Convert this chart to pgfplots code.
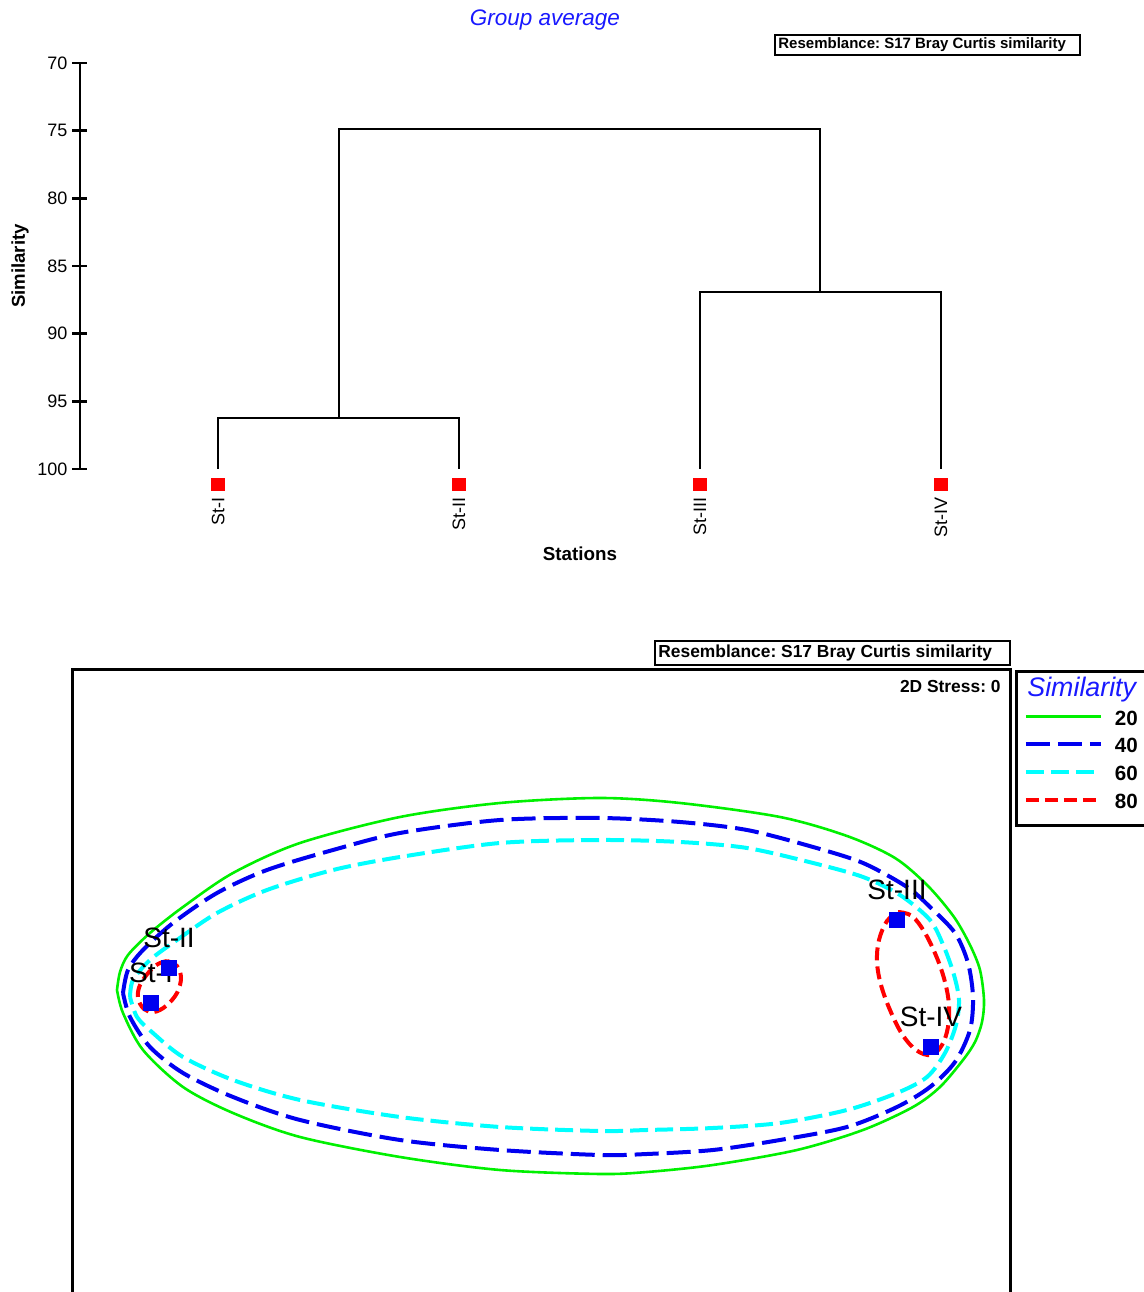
\documentclass[border=0pt]{standalone}
\usepackage{pgfplots}
\pgfplotsset{compat=1.18}
\usepackage{fontspec}
\setmainfont{Liberation Sans}
\frenchspacing
\definecolor{cgreen}{RGB}{0,240,0}
\definecolor{cblue}{RGB}{0,0,240}
\definecolor{ccyan}{RGB}{0,255,255}
\definecolor{cred}{RGB}{255,0,0}
\definecolor{ctitle}{RGB}{25,25,255}
\begin{document}
\begin{tikzpicture}
\path[use as bounding box] (0,0) rectangle (572pt,646pt);
% ---------------- dendrogram ----------------
\begin{axis}[
  at={(40pt,411.5pt)}, anchor=south west, scale only axis,
  width=499.5pt, height=203pt,
  xmin=0.427, xmax=4.573, ymin=70, ymax=100, y dir=reverse,
  axis x line=none, axis y line=left,
  axis line style={-, line width=1.3pt},
  ytick={70,75,80,85,90,95,100},
  tick align=center, major tick length=7.5pt,
  tick style={line width=1.3pt, black},
  /pgf/number format/assume math mode=true,
  yticklabel style={font=\fontsize{9}{10}\selectfont, xshift=1pt},
  ylabel={Similarity},
  ylabel style={at={(axis description cs:-0.06,0.5)}, anchor=center, font=\bfseries\fontsize{9.3}{10}\selectfont},
  clip=false,
]
\addplot[black, line width=1pt] coordinates {(1,100) (1,96.2) (2,96.2) (2,100)};
\addplot[black, line width=1pt] coordinates {(3,100) (3,86.9) (4,86.9) (4,100)};
\addplot[black, line width=1pt] coordinates {(1.5,96.2) (1.5,74.9) (3.5,74.9) (3.5,86.9)};
\addplot[only marks, mark=square*, mark size=3.2pt, color=cred] coordinates {(1,101.14) (2,101.14) (3,101.14) (4,101.14)};
\node[rotate=90, anchor=east, inner sep=0pt, font=\fontsize{9}{10}\selectfont] at (axis cs:1,102.1) {St-I};
\node[rotate=90, anchor=east, inner sep=0pt, font=\fontsize{9}{10}\selectfont] at (axis cs:2,102.1) {St-II};
\node[rotate=90, anchor=east, inner sep=0pt, font=\fontsize{9}{10}\selectfont] at (axis cs:3,102.1) {St-III};
\node[rotate=90, anchor=east, inner sep=0pt, font=\fontsize{9}{10}\selectfont] at (axis cs:4,102.1) {St-IV};
\end{axis}
% ---------------- MDS ----------------
\begin{axis}[
  at={(36pt,-54pt)}, anchor=south west, scale only axis,
  width=469pt, height=365pt,
  xmin=72, xmax=1010, ymin=-1400, ymax=-670,
  ticks=none, axis line style={line width=1.5pt},
  clip=false,
  legend image code/.code={\draw[#1] (0pt,0.6pt) -- (37.5pt,0.6pt);},
  legend cell align=right,
  legend style={at={(axis description cs:1.0149,0.9444)}, anchor=north west,
    draw=none, fill=none, inner sep=0pt, outer sep=0pt,
    row sep=6.4pt, column sep=6pt,
    nodes={inner sep=0pt, text height=7.4pt, text depth=0pt},
    font=\bfseries\fontsize{10.3}{12}\selectfont},
]
\addplot[color=cgreen, line width=1.3pt, smooth, tension=0.5] coordinates {
(117,-990) (120,-972) (128,-955) (150,-933) (183,-907) (233,-873) (300,-843) (400,-817) (500,-803) (600,-798) (680,-803) (780,-817) (847,-836) (895,-858) (928,-886) (954,-917) (970,-945) (980,-970) (984,-1000) (982,-1022) (975,-1042) (963,-1060) (940,-1087) (913,-1107) (863,-1130) (797,-1150) (713,-1165) (647,-1172) (600,-1174) (500,-1170) (400,-1157) (300,-1137) (233,-1113) (183,-1087) (143,-1050) (123,-1013) (117,-990)};
\addlegendentry{20}
\addplot[color=cblue, line width=2pt, dash pattern=on 12pt off 4pt, smooth, tension=0.5] coordinates {
(123,-993) (128,-970) (143,-950) (173,-923) (217,-893) (267,-870) (333,-850) (400,-833) (500,-820) (600,-818) (680,-822) (747,-830) (813,-847) (863,-863) (907,-887) (930,-907) (955,-933) (968,-963) (973,-997) (970,-1030) (955,-1062) (930,-1087) (897,-1107) (847,-1127) (780,-1140) (713,-1150) (647,-1154) (600,-1155) (500,-1150) (400,-1140) (300,-1120) (233,-1097) (183,-1073) (150,-1047) (130,-1017) (123,-993)};
\addlegendentry{40}
\addplot[color=ccyan, line width=2pt, dash pattern=on 9pt off 3.5pt, smooth, tension=0.5] coordinates {
(130,-997) (133,-980) (150,-960) (177,-940) (217,-913) (267,-890) (333,-870) (400,-857) (500,-843) (600,-840) (680,-842) (747,-848) (813,-863) (863,-877) (900,-895) (930,-920) (944,-947) (954,-975) (959,-1000) (956,-1025) (945,-1053) (927,-1077) (897,-1093) (847,-1110) (780,-1123) (713,-1128) (647,-1130) (600,-1131) (500,-1127) (400,-1117) (300,-1100) (233,-1080) (183,-1057) (153,-1033) (137,-1017) (130,-997)};
\addlegendentry{60}
\addplot[color=cred, line width=2pt, dash pattern=on 6.5pt off 3pt, smooth, tension=0.6] coordinates {
(167,-961) (177,-966) (181,-978) (177,-993) (166,-1006) (154,-1012) (144,-1009) (138,-998) (140,-985) (149,-972) (158,-964) (167,-961)};
\addlegendentry{80}
\addplot[color=cred, line width=2pt, dash pattern=on 6.5pt off 3pt, smooth, tension=0.6, forget plot] coordinates {
(898,-912) (912,-916) (925,-933) (937,-958) (945,-982) (949,-1005) (948,-1027) (942,-1045) (931,-1055) (916,-1050) (902,-1034) (890,-1010) (881,-985) (877,-962) (879,-940) (887,-921) (898,-912)};
\addplot[only marks, mark=square*, mark size=3.6pt, color=cblue, forget plot] coordinates {(151,-1003) (169,-968) (897,-920) (931,-1047)};
\node[anchor=base, inner sep=0pt, font=\fontsize{14}{16}\selectfont] at (axis cs:151,-983) {St-I};
\node[anchor=base, inner sep=0pt, font=\fontsize{14}{16}\selectfont] at (axis cs:169,-948) {St-II};
\node[anchor=base, inner sep=0pt, font=\fontsize{14}{16}\selectfont] at (axis cs:897,-900) {St-III};
\node[anchor=base, inner sep=0pt, font=\fontsize{14}{16}\selectfont] at (axis cs:931,-1027) {St-IV};
\end{axis}
% ---------------- annotations (pixel coordinates) ----------------
\begin{scope}[yshift=646pt, x=0.5pt, y=-0.5pt]
\node[font=\itshape\fontsize{11.25}{13}\selectfont, text=ctitle] at (545,20) {Group average};
\draw[line width=1.2pt] (775,35) rectangle (1080,55);
\node[anchor=west, inner sep=0pt, font=\bfseries\fontsize{7.5}{9}\selectfont] at (778,45) {Resemblance: S17 Bray Curtis similarity};
\node[font=\bfseries\fontsize{9.4}{11}\selectfont] at (580,554) {Stations};
\draw[line width=1.4pt] (655,641) rectangle (1010,665);
\node[anchor=west, inner sep=0pt, font=\bfseries\fontsize{8.7}{10}\selectfont] at (658,653) {Resemblance: S17 Bray Curtis similarity};
\node[anchor=east, inner sep=0pt, font=\bfseries\fontsize{8.7}{10}\selectfont] at (1001,687) {2D Stress: 0};
\draw[line width=1.5pt] (1016,672) rectangle (1150,826);
\node[anchor=base west, inner sep=0pt, font=\itshape\fontsize{13.4}{15}\selectfont, text=ctitle] at (1027,697) {Similarity};
\end{scope}
\end{tikzpicture}
\end{document}
